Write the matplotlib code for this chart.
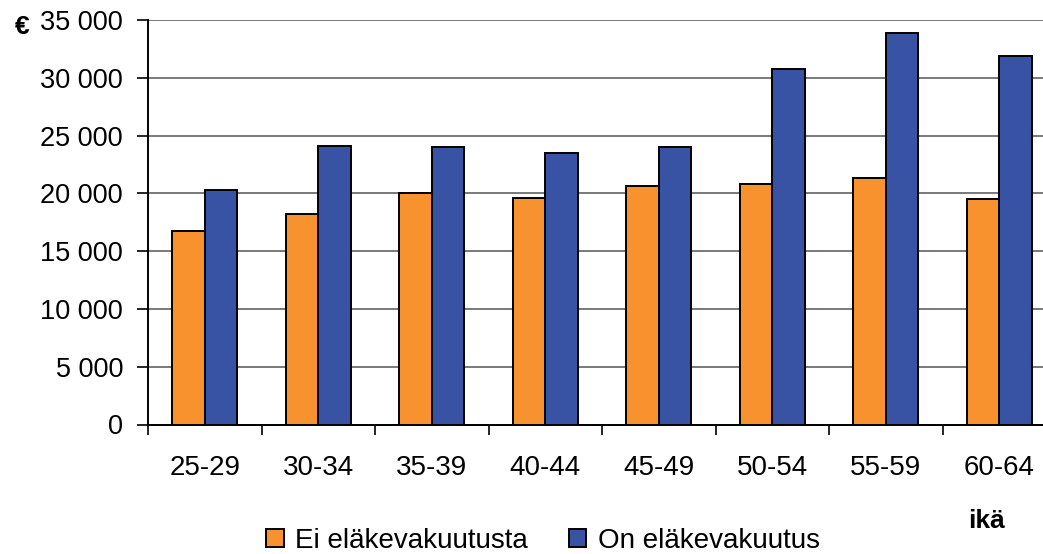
import matplotlib
matplotlib.use("Agg")
import matplotlib.pyplot as plt
import numpy as np
from matplotlib.ticker import FixedLocator, FuncFormatter

plt.rcParams['font.family'] = ['Liberation Sans', 'DejaVu Sans']

age_groups = ["25-29", "30-34", "35-39", "40-44", "45-49", "50-54", "55-59", "60-64"]
no_insurance = [16700, 18200, 20000, 19600, 20600, 20800, 21300, 19500]
has_insurance = [20300, 24100, 24000, 23500, 24000, 30800, 33900, 31900]
series_labels = ["Ei eläkevakuutusta", "On eläkevakuutus"]
y_ticks = [0, 5000, 10000, 15000, 20000, 25000, 30000, 35000]

orange = "#F7922F"
blue = "#3953A4"

fig = plt.figure(figsize=(10.43, 5.54), dpi=100)
ax = fig.add_axes([148 / 1043, 129.5 / 554, 908 / 1043, 404.5 / 554])

x = np.arange(len(age_groups)) + 0.5
w = 0.286
b1 = ax.bar(x - w / 2, no_insurance, w, color=orange, edgecolor="black", linewidth=1.4,
            label=series_labels[0], zorder=3)
b2 = ax.bar(x + w / 2, has_insurance, w, color=blue, edgecolor="black", linewidth=1.4,
            label=series_labels[1], zorder=3)

ax.set_xlim(0, len(age_groups))
ax.set_ylim(0, 35000)

ax.yaxis.set_major_locator(FixedLocator(y_ticks))
ax.yaxis.set_major_formatter(FuncFormatter(lambda v, p: f"{int(v):,}".replace(",", " ")))
ax.grid(axis="y", color="#6e6e6e", linewidth=1.3, zorder=0)
ax.set_axisbelow(True)

ax.set_xticks(x)
ax.set_xticklabels(age_groups)
ax.set_xticks(np.arange(len(age_groups) + 1), minor=True)
ax.tick_params(axis="x", which="major", length=0, pad=22, labelsize=20)
ax.tick_params(axis="x", which="minor", direction="out", length=7, width=1.2, color="black")
ax.tick_params(axis="y", direction="out", length=8, width=1.2, pad=10, labelsize=19.5)

for s in ("top", "right"):
    ax.spines[s].set_visible(False)
for s in ("left", "bottom"):
    ax.spines[s].set_linewidth(1.4)
    ax.spines[s].set_color("black")

fig.text(15 / 1043, 1 - 27 / 554, "€", fontsize=19, fontweight="bold", va="center", ha="left")
fig.text(987 / 1043, 1 - 521 / 554, "ikä", fontsize=19, fontweight="bold", va="center", ha="center")

fig.legend(handles=[b1, b2], labels=series_labels, loc="center",
           bbox_to_anchor=(543 / 1043, 1 - 541 / 554), ncol=2, frameon=False,
           fontsize=20, handlelength=0.62, handleheight=0.62, handletextpad=0.4,
           columnspacing=1.5, borderaxespad=0)

fig.savefig("out.png", dpi=100)
